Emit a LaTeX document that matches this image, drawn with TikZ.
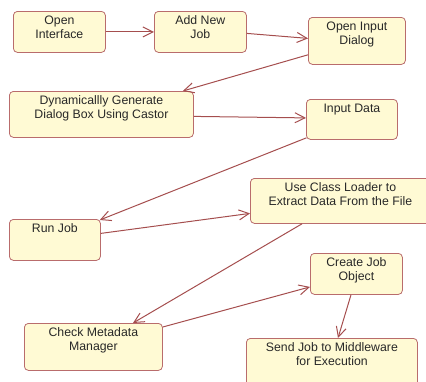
\documentclass[tikz,border=0pt]{standalone}
\usepackage{fontspec}
\setmainfont{Liberation Sans}
\usetikzlibrary{arrows.meta,calc}

\definecolor{boxfill}{RGB}{255,250,212}
\definecolor{boxline}{RGB}{185,108,108}
\definecolor{flow}{RGB}{165,78,78}
\definecolor{txt}{RGB}{40,40,40}

% activity body: fixed size, text set from the top
\newcommand\actbody[3]{\parbox[c][#2][t]{#1}{\centering\vspace*{2.6pt}\strut #3}}

\tikzset{
  act/.style={draw=boxline, fill=boxfill, rounded corners=4pt, inner sep=0pt,
              anchor=north west, line width=0.8pt, text=txt,
              font=\fontsize{12.3}{14.7}\selectfont},
  flowline/.style={draw=flow, line width=1pt,
                   -{Straight Barb[length=10pt,width=10pt,line width=1pt]}}
}

\begin{document}
\begin{tikzpicture}[x=1pt,y=-1pt]
\useasboundingbox (0,0) rectangle (426,381);
\clip (0,0) rectangle (426,381);

\node[act] (oi)  at (13,11)  {\actbody{92pt}{41pt}{Open\\Interface}};
\node[act] (anj) at (154,11) {\actbody{92pt}{41pt}{Add New\\Job}};
\node[act] (oid) at (308,17) {\actbody{97pt}{47pt}{Open Input\\Dialog}};
\node[act] (dg)  at (9,91)   {\actbody{184pt}{46pt}{Dynamicallly Generate\\Dialog Box Using Castor}};
\node[act] (id)  at (306,99) {\actbody{91pt}{40pt}{Input Data}};
\node[act] (ucl) at (250,178){\actbody{180pt}{45pt}{Use Class Loader to\\Extract Data From the File}};
\node[act] (rj)  at (9,219)  {\actbody{91pt}{41pt}{Run Job}};
\node[act] (cjo) at (310,253){\actbody{92pt}{41pt}{Create Job\\Object}};
\node[act] (cmm) at (24,323) {\actbody{138pt}{47pt}{Check Metadata\\Manager}};
\node[act] (sj)  at (246,338){\actbody{171pt}{50pt}{Send Job to Middleware\\for Execution}};

\draw[flowline] (oi.east) -- (anj.west);
\draw[flowline] ($(anj.east)+(0,1.5)$) -- ($(oid.west)+(0,-2.5)$);
\draw[flowline] ($(oid.south west)+(0,-10)$) -- ($(dg.north east)+(-11,0)$);
\draw[flowline] ($(dg.east)+(0,2)$) -- ($(id.west)+(0,-1.5)$);
\draw[flowline] ($(id.south west)+(0.5,-2)$) -- ($(rj.north east)+(-1,1)$);
\draw[flowline] ($(rj.east)+(0,-6.5)$) -- ($(ucl.west)+(0,12.5)$);
\draw[flowline] ($(ucl.south west)+(52,0)$) -- ($(cmm.north west)+(109,0)$);
\draw[flowline] ($(cmm.north east)+(0,4)$) -- ($(cjo.west)+(0,13)$);
\draw[flowline] ($(cjo.south west)+(41,0)$) -- ($(sj.north west)+(92,0)$);
\end{tikzpicture}
\end{document}
